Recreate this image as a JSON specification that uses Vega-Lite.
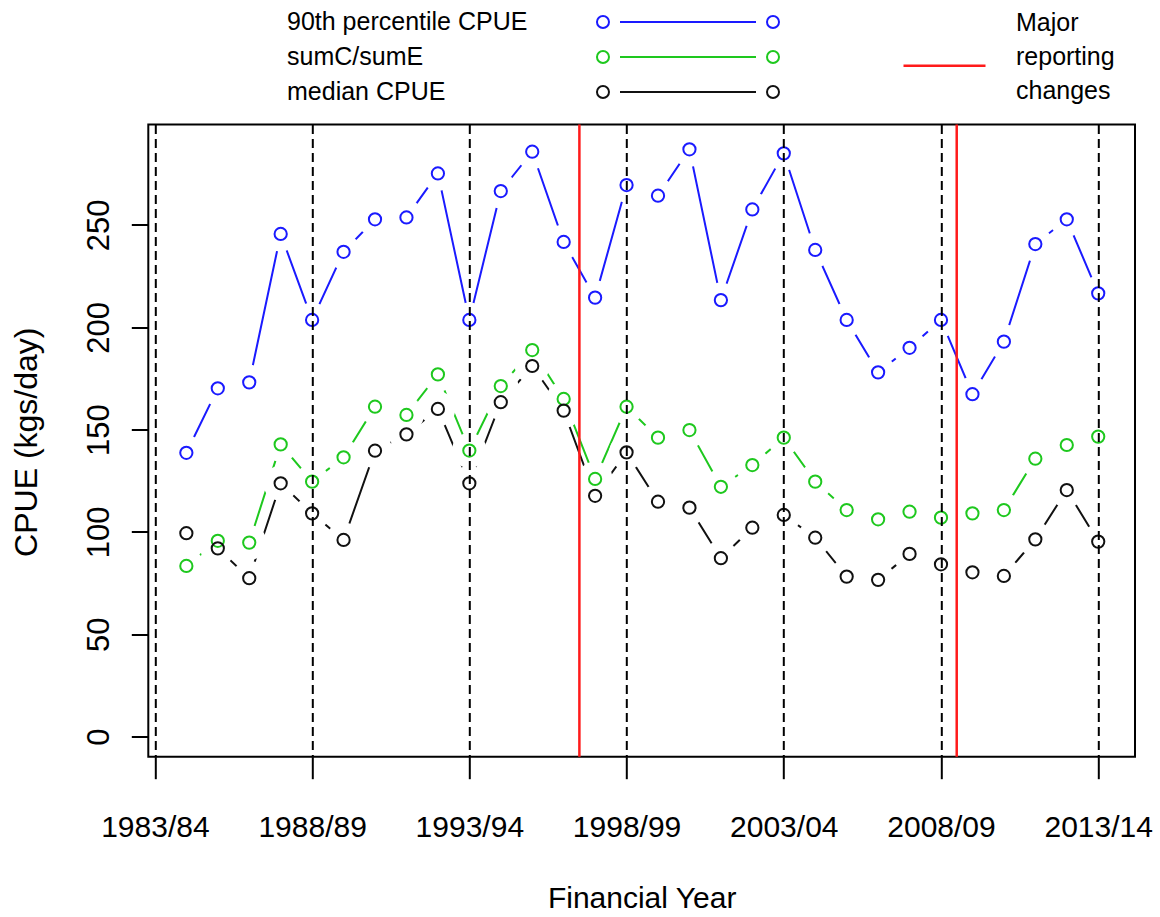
{
  "$schema": "https://vega.github.io/schema/vega-lite/v6.json",
  "width": 986.7,
  "height": 632.2,
  "autosize": {"type": "none"},
  "padding": {"left": 148.3, "top": 124.5, "right": 25, "bottom": 160.3},
  "background": "white",
  "config": {
    "view": {"stroke": "#000000", "strokeWidth": 2},
    "font": "Liberation Sans"
  },
  "datasets": {
    "cpue": [
      {"year": 1984, "series": "90th percentile CPUE", "value": 138.7},
      {"year": 1985, "series": "90th percentile CPUE", "value": 170.2},
      {"year": 1986, "series": "90th percentile CPUE", "value": 173.1},
      {"year": 1987, "series": "90th percentile CPUE", "value": 245.6},
      {"year": 1988, "series": "90th percentile CPUE", "value": 203.6},
      {"year": 1989, "series": "90th percentile CPUE", "value": 236.9},
      {"year": 1990, "series": "90th percentile CPUE", "value": 252.8},
      {"year": 1991, "series": "90th percentile CPUE", "value": 253.7},
      {"year": 1992, "series": "90th percentile CPUE", "value": 275.2},
      {"year": 1993, "series": "90th percentile CPUE", "value": 203.6},
      {"year": 1994, "series": "90th percentile CPUE", "value": 266.6},
      {"year": 1995, "series": "90th percentile CPUE", "value": 285.8},
      {"year": 1996, "series": "90th percentile CPUE", "value": 241.7},
      {"year": 1997, "series": "90th percentile CPUE", "value": 214.5},
      {"year": 1998, "series": "90th percentile CPUE", "value": 269.5},
      {"year": 1999, "series": "90th percentile CPUE", "value": 264.3},
      {"year": 2000, "series": "90th percentile CPUE", "value": 287.0},
      {"year": 2001, "series": "90th percentile CPUE", "value": 213.3},
      {"year": 2002, "series": "90th percentile CPUE", "value": 257.6},
      {"year": 2003, "series": "90th percentile CPUE", "value": 285.0},
      {"year": 2004, "series": "90th percentile CPUE", "value": 237.8},
      {"year": 2005, "series": "90th percentile CPUE", "value": 203.6},
      {"year": 2006, "series": "90th percentile CPUE", "value": 178.0},
      {"year": 2007, "series": "90th percentile CPUE", "value": 190.0},
      {"year": 2008, "series": "90th percentile CPUE", "value": 203.6},
      {"year": 2009, "series": "90th percentile CPUE", "value": 167.3},
      {"year": 2010, "series": "90th percentile CPUE", "value": 193.0},
      {"year": 2011, "series": "90th percentile CPUE", "value": 240.7},
      {"year": 2012, "series": "90th percentile CPUE", "value": 252.8},
      {"year": 2013, "series": "90th percentile CPUE", "value": 216.6},
      {"year": 1984, "series": "sumC/sumE", "value": 83.4},
      {"year": 1985, "series": "sumC/sumE", "value": 95.7},
      {"year": 1986, "series": "sumC/sumE", "value": 94.8},
      {"year": 1987, "series": "sumC/sumE", "value": 142.8},
      {"year": 1988, "series": "sumC/sumE", "value": 124.6},
      {"year": 1989, "series": "sumC/sumE", "value": 136.5},
      {"year": 1990, "series": "sumC/sumE", "value": 161.2},
      {"year": 1991, "series": "sumC/sumE", "value": 157.2},
      {"year": 1992, "series": "sumC/sumE", "value": 177.0},
      {"year": 1993, "series": "sumC/sumE", "value": 139.8},
      {"year": 1994, "series": "sumC/sumE", "value": 171.3},
      {"year": 1995, "series": "sumC/sumE", "value": 188.9},
      {"year": 1996, "series": "sumC/sumE", "value": 165.0},
      {"year": 1997, "series": "sumC/sumE", "value": 125.9},
      {"year": 1998, "series": "sumC/sumE", "value": 161.2},
      {"year": 1999, "series": "sumC/sumE", "value": 146.1},
      {"year": 2000, "series": "sumC/sumE", "value": 149.8},
      {"year": 2001, "series": "sumC/sumE", "value": 122.1},
      {"year": 2002, "series": "sumC/sumE", "value": 132.7},
      {"year": 2003, "series": "sumC/sumE", "value": 146.1},
      {"year": 2004, "series": "sumC/sumE", "value": 124.6},
      {"year": 2005, "series": "sumC/sumE", "value": 110.7},
      {"year": 2006, "series": "sumC/sumE", "value": 106.2},
      {"year": 2007, "series": "sumC/sumE", "value": 109.9},
      {"year": 2008, "series": "sumC/sumE", "value": 107.0},
      {"year": 2009, "series": "sumC/sumE", "value": 109.1},
      {"year": 2010, "series": "sumC/sumE", "value": 110.7},
      {"year": 2011, "series": "sumC/sumE", "value": 135.8},
      {"year": 2012, "series": "sumC/sumE", "value": 142.5},
      {"year": 2013, "series": "sumC/sumE", "value": 146.6},
      {"year": 1984, "series": "median CPUE", "value": 99.4},
      {"year": 1985, "series": "median CPUE", "value": 92.0},
      {"year": 1986, "series": "median CPUE", "value": 77.4},
      {"year": 1987, "series": "median CPUE", "value": 123.8},
      {"year": 1988, "series": "median CPUE", "value": 109.1},
      {"year": 1989, "series": "median CPUE", "value": 96.1},
      {"year": 1990, "series": "median CPUE", "value": 139.7},
      {"year": 1991, "series": "median CPUE", "value": 147.7},
      {"year": 1992, "series": "median CPUE", "value": 160.1},
      {"year": 1993, "series": "median CPUE", "value": 123.8},
      {"year": 1994, "series": "median CPUE", "value": 163.4},
      {"year": 1995, "series": "median CPUE", "value": 181.1},
      {"year": 1996, "series": "median CPUE", "value": 159.3},
      {"year": 1997, "series": "median CPUE", "value": 117.7},
      {"year": 1998, "series": "median CPUE", "value": 138.9},
      {"year": 1999, "series": "median CPUE", "value": 114.8},
      {"year": 2000, "series": "median CPUE", "value": 111.9},
      {"year": 2001, "series": "median CPUE", "value": 87.2},
      {"year": 2002, "series": "median CPUE", "value": 102.1},
      {"year": 2003, "series": "median CPUE", "value": 108.3},
      {"year": 2004, "series": "median CPUE", "value": 97.2},
      {"year": 2005, "series": "median CPUE", "value": 78.2},
      {"year": 2006, "series": "median CPUE", "value": 76.6},
      {"year": 2007, "series": "median CPUE", "value": 89.3},
      {"year": 2008, "series": "median CPUE", "value": 84.2},
      {"year": 2009, "series": "median CPUE", "value": 80.3},
      {"year": 2010, "series": "median CPUE", "value": 78.5},
      {"year": 2011, "series": "median CPUE", "value": 96.4},
      {"year": 2012, "series": "median CPUE", "value": 120.5},
      {"year": 2013, "series": "median CPUE", "value": 95.3}
    ],
    "changes": [
      {"year": 1996.5, "kind": "Major reporting changes"},
      {"year": 2008.5, "kind": "Major reporting changes"}
    ]
  },
  "layer": [
    {
      "data": {"name": "cpue"},
      "mark": {"type": "line", "strokeWidth": 2},
      "encoding": {
        "x": {
          "field": "year", "type": "quantitative",
          "scale": {"domain": [1982.79, 2014.17], "nice": false, "zero": false},
          "axis": {
            "values": [1983, 1988, 1993, 1998, 2003, 2008, 2013],
            "labelExpr": "datum.value + '/' + slice(toString(datum.value + 1), 2)",
            "title": "Financial Year",
            "domain": false,
            "grid": true, "gridColor": "#000000", "gridWidth": 2, "gridDash": [9, 5], "gridOpacity": 1,
            "ticks": true, "tickSize": 22, "tickWidth": 2, "tickColor": "#000000",
            "labelFont": "Liberation Sans", "labelFontSize": 30, "labelColor": "#000000",
            "labelBaseline": "alphabetic", "labelAlign": "center", "labelPadding": 57.3,
            "labelOverlap": false, "labelFlush": false, "labelBound": false,
            "titleFont": "Liberation Sans", "titleFontSize": 30, "titleFontWeight": "normal", "titleColor": "#000000",
            "titleBaseline": "alphabetic", "titleAlign": "center", "titleX": 493.35, "titleY": 151,
            "zindex": 1
          }
        },
        "y": {
          "field": "value", "type": "quantitative",
          "scale": {"domain": [-9.8, 299.1], "nice": false, "zero": false},
          "axis": {
            "values": [0, 50, 100, 150, 200, 250],
            "title": "CPUE (kgs/day)",
            "domain": false, "grid": false,
            "ticks": true, "tickSize": 17, "tickWidth": 2, "tickColor": "#000000",
            "labelFont": "Liberation Sans", "labelFontSize": 31, "labelColor": "#000000",
            "labelAngle": -90, "labelAlign": "center", "labelBaseline": "alphabetic", "labelPadding": 23,
            "labelOverlap": false, "labelFlush": false, "labelBound": false,
            "titleFont": "Liberation Sans", "titleFontSize": 32, "titleFontWeight": "normal", "titleColor": "#000000",
            "titleAngle": 270, "titleBaseline": "alphabetic", "titleAlign": "center", "titleX": -111.6, "titleY": 317.2,
            "zindex": 1
          }
        },
        "color": {
          "field": "series", "type": "nominal",
          "scale": {
            "domain": ["90th percentile CPUE", "sumC/sumE", "median CPUE"],
            "range": ["#1a1aff", "#1ec81e", "#111111"]
          },
          "legend": {
            "title": null, "orient": "none", "legendX": 523.7, "legendY": -118.5, "direction": "vertical",
            "padding": 0, "rowPadding": 6,
            "symbolType": "M-5.267,0A0.4,0.4 0 1,1 -6.067,0A0.4,0.4 0 1,1 -5.267,0M-4.533,0L4.533,0M6.067,0A0.4,0.4 0 1,1 5.267,0A0.4,0.4 0 1,1 6.067,0",
            "symbolSize": 900, "symbolStrokeWidth": 2, "symbolFillColor": "transparent", "symbolOffset": 0,
            "labelFont": "Liberation Sans", "labelFontSize": 25, "labelColor": "#000000",
            "labelAlign": "left", "labelOffset": -417, "labelLimit": 0
          }
        }
      }
    },
    {
      "data": {"name": "cpue"},
      "mark": {"type": "point", "filled": true, "fill": "#ffffff", "stroke": "#ffffff", "strokeWidth": 0, "size": 1225, "opacity": 1, "shape": "circle"},
      "encoding": {
        "x": {"field": "year", "type": "quantitative"},
        "y": {"field": "value", "type": "quantitative"}
      }
    },
    {
      "data": {"name": "cpue"},
      "mark": {"type": "point", "filled": false, "size": 150, "strokeWidth": 2, "opacity": 1, "shape": "circle"},
      "encoding": {
        "x": {"field": "year", "type": "quantitative"},
        "y": {"field": "value", "type": "quantitative"},
        "color": {"field": "series", "type": "nominal"}
      }
    },
    {
      "data": {"name": "changes"},
      "mark": {"type": "rule", "strokeWidth": 2.5},
      "encoding": {
        "x": {"field": "year", "type": "quantitative"},
        "stroke": {
          "field": "kind", "type": "nominal",
          "scale": {"domain": ["Major reporting changes"], "range": ["#ff1a1a"]},
          "legend": {
            "title": null, "orient": "none", "legendX": 753.7, "legendY": -101.2,
            "padding": 0,
            "symbolType": "stroke", "symbolSize": 6724, "symbolStrokeWidth": 2.5, "symbolOffset": 0,
            "labelFont": "Liberation Sans", "labelFontSize": 25, "labelColor": "#000000",
            "labelAlign": "left", "labelOffset": 29, "labelLimit": 0,
            "labelExpr": "['Major', 'reporting', 'changes']",
            "encode": {"labels": {"update": {"lineHeight": {"value": 34}, "dy": {"value": -43}}}}
          }
        }
      }
    }
  ]
}
